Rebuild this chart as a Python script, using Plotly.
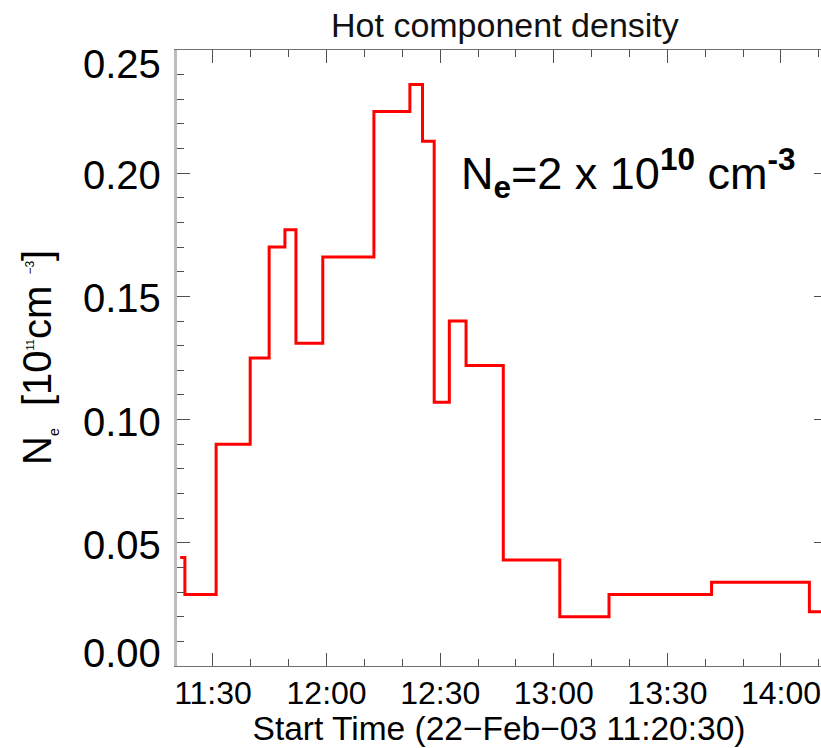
import plotly.graph_objects as go

DAY = "2003-02-22 "

# step-bin start times and hot component density values (10^11 cm^-3)
bin_start = ["11:21:20", "11:22:35", "11:30:50", "11:39:50", "11:44:50", "11:49:00",
             "11:51:55", "11:59:00", "12:12:30", "12:22:00", "12:25:20", "12:28:25",
             "12:32:25", "12:36:50", "12:46:40", "13:01:35", "13:14:35", "13:41:40",
             "14:07:30"]
bin_end_last = "14:20:00"
density = [0.044, 0.029, 0.090, 0.125, 0.170, 0.177,
           0.131, 0.166, 0.225, 0.236, 0.213, 0.107,
           0.140, 0.122, 0.043, 0.020, 0.029, 0.034,
           0.022]

ytick_vals = [0.00, 0.05, 0.10, 0.15, 0.20, 0.25]
ytick_text = ["0.00", "0.05", "0.10", "0.15", "0.20", "0.25"]

x_start = "11:20:30"
x_end = "14:10:34"

FONT = "Liberation Sans, Arial, Helvetica, sans-serif"

xs = [DAY + t for t in bin_start] + [DAY + bin_end_last]
ys = density + [density[-1]]

fig = go.Figure()
fig.add_trace(go.Scatter(x=xs, y=ys, mode="lines",
                         line=dict(color="#ff0000", width=3, shape="hv"),
                         showlegend=False, hoverinfo="skip"))
# invisible trace to activate the right-hand tick axis
fig.add_trace(go.Scatter(x=xs, y=ys, mode="lines", yaxis="y2", opacity=0,
                         line=dict(width=1), showlegend=False, hoverinfo="skip"))

tickcol = "#505050"
fig.update_layout(
    width=821, height=748,
    margin=dict(l=177, r=0, t=50, b=82),
    paper_bgcolor="white", plot_bgcolor="white",
    font=dict(family=FONT, color="black"),
    title=dict(text="Hot component density", x=0.615, xanchor="center",
               y=0.966, yanchor="middle", font=dict(size=34, color="#111")),
    xaxis=dict(type="date", range=[DAY + x_start, DAY + x_end],
               tickformat="%H:%M", tick0=DAY + "11:30:00", dtick=30 * 60 * 1000,
               ticks="inside", ticklen=13, tickwidth=1.3, tickcolor=tickcol,
               minor=dict(dtick=10 * 60 * 1000, ticks="inside", ticklen=7,
                          tickwidth=1.3, tickcolor=tickcol, showgrid=False),
               showline=True, linecolor="#707070", linewidth=1.2, mirror="ticks",
               showgrid=False, zeroline=False, ticklabeloverflow="allow",
               ticklabelstandoff=-2,
               tickfont=dict(size=32, color="black"),
               title=dict(text="Start Time (22\u2212Feb\u221203 11:20:30)",
                          font=dict(size=33.5, color="black"), standoff=7)),
    yaxis=dict(range=[0, 0.25], tickvals=ytick_vals,
               ticks="inside", ticklen=13, tickwidth=1.3, tickcolor=tickcol,
               minor=dict(dtick=0.01, ticks="inside", ticklen=7,
                          tickwidth=1.3, tickcolor=tickcol, showgrid=False),
               showline=True, linecolor="#bdbdbd", linewidth=2.5, mirror=False,
               showgrid=False, zeroline=False, showticklabels=False),
    # right-hand frame sits just past the picture edge: only major tick stubs show
    yaxis2=dict(range=[0, 0.25], overlaying="y", side="right", anchor="x",
                tickvals=ytick_vals, ticks="inside", ticklen=7, tickwidth=1.3,
                tickcolor=tickcol,
                showline=False, showgrid=False, zeroline=False,
                showticklabels=False),
)

# y tick labels (end labels pulled inside the frame, as in the original)
for v, lab in zip(ytick_vals, ytick_text):
    if v == ytick_vals[-1]:
        shift = -14
    elif v == ytick_vals[0]:
        shift = 13
    else:
        shift = -2
    fig.add_annotation(x=0, xref="paper", xanchor="right", xshift=-14,
                       y=v, yref="y", yanchor="middle", yshift=shift,
                       text=lab, showarrow=False,
                       font=dict(size=40, color="black"))

# y axis title
fig.add_annotation(
    x=0, xref="paper", xshift=-139, xanchor="center",
    y=0.5, yref="paper", yanchor="middle", textangle=-90, showarrow=False,
    text=("N<sub><span style='font-size:14px'>e</span></sub>  [10"
          "<sup><span style='font-size:11px'>11</span></sup>cm "
          "<sup><span style='font-size:12px'>\u22123</span></sup>]"),
    font=dict(size=40, color="black"))

# density note
fig.add_annotation(
    x=DAY + "12:36:00", xref="x", xanchor="left", xshift=-4,
    y=0.2, yref="y", yanchor="middle", showarrow=False,
    text="N<sub><b>e</b></sub>=2 x 10<sup><b>10</b></sup> cm<sup><b>-3</b></sup>",
    font=dict(size=45, color="black"))

fig.write_html("out.html")
